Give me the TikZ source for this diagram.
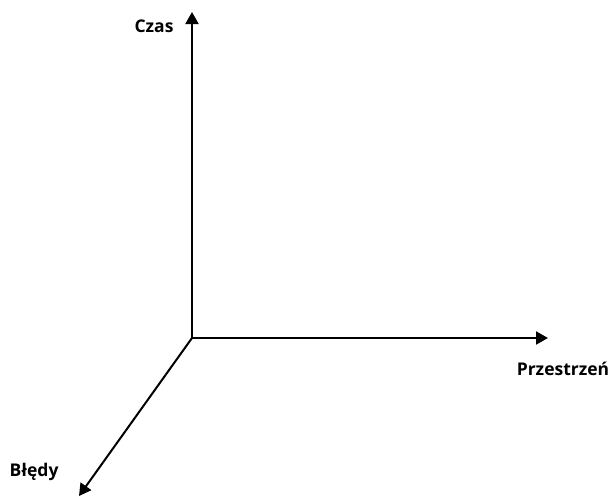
\documentclass[tikz,border=0pt]{standalone}
\usepackage{fontspec}
\setmainfont{Open Sans}
\usetikzlibrary{arrows.meta}
\begin{document}
\begin{tikzpicture}[x=1pt,y=-1pt,
  axis/.style={line width=2pt,-{Triangle[length=12pt,width=13pt]}},
  axislabel/.style={font=\fontsize{17.5}{20}\selectfont\bfseries,inner sep=0pt}]
  \useasboundingbox (0,0) rectangle (614,498);
  % origin and axis ends
  \coordinate (o) at (192,338);
  \coordinate (t) at (192,12);
  \coordinate (s) at (548,338);
  \coordinate (b) at (79,496);
  \draw[axis] (o) -- (t);
  \draw[axis] (o) -- (s);
  \draw[axis,shorten <=-0.5pt] (o) -- (b);
  % axis names
  \node[axislabel] (czas) at (154,26) {Czas};
  \node[axislabel] (przestrzen) at (563,369) {Przestrzeń};
  \node[axislabel] (bledy) at (34,472) {Błędy};
\end{tikzpicture}
\end{document}
